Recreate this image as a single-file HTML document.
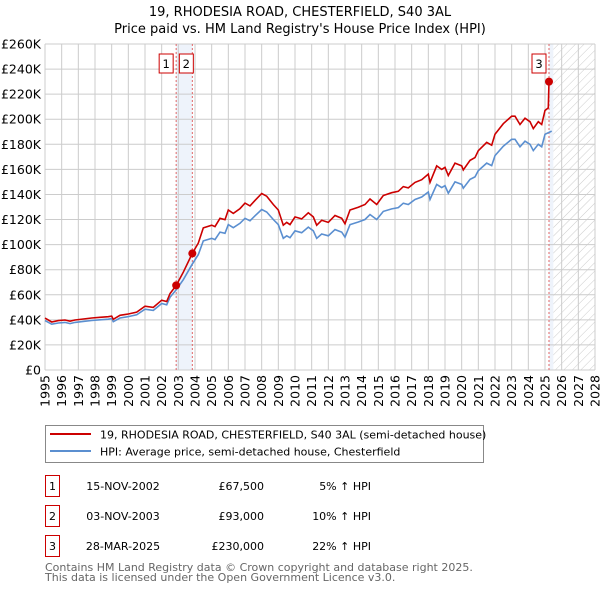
<!DOCTYPE html>
<html><head><meta charset="utf-8"><style>
body{margin:0;background:#fff;font-family:"Liberation Sans","DejaVu Sans",sans-serif;}
svg text{font-family:"DejaVu Sans","Liberation Sans",sans-serif;}
</style></head><body>
<svg id="chart" width="600" height="590" viewBox="0 0 600 590" xmlns="http://www.w3.org/2000/svg">
<defs><pattern id="hatch" width="6" height="6" patternUnits="userSpaceOnUse" patternTransform="rotate(45)"><line x1="0" y1="0" x2="0" y2="6" stroke="#ccc" stroke-width="1"/></pattern></defs>
<text x="300" y="16" text-anchor="middle" font-size="13">19, RHODESIA ROAD, CHESTERFIELD, S40 3AL</text>
<text x="300" y="33" text-anchor="middle" font-size="13">Price paid vs. HM Land Registry's House Price Index (HPI)</text>
<g id="plot"></g>
<g>
<rect x="45.5" y="425.5" width="438" height="37" fill="#fff" stroke="#888"/>
<line x1="50" y1="434" x2="91" y2="434" stroke="#cc0000" stroke-width="2"/>
<text x="100" y="438.5" font-size="11">19, RHODESIA ROAD, CHESTERFIELD, S40 3AL (semi-detached house)</text>
<line x1="50" y1="451" x2="91" y2="451" stroke="#5b8fd0" stroke-width="2"/>
<text x="100" y="455.5" font-size="11">HPI: Average price, semi-detached house, Chesterfield</text>
</g>
<g font-size="11">
<rect x="45.5" y="475.5" width="14" height="21" fill="#fff" stroke="#cc0000"/><text x="52.5" y="490" text-anchor="middle">1</text>
<text x="123" y="490" text-anchor="middle">15-NOV-2002</text><text x="264" y="490" text-anchor="end">£67,500</text><text x="371" y="490" text-anchor="end">5% ↑ HPI</text>
<rect x="45.5" y="505.5" width="14" height="21" fill="#fff" stroke="#cc0000"/><text x="52.5" y="520" text-anchor="middle">2</text>
<text x="123" y="520" text-anchor="middle">03-NOV-2003</text><text x="264" y="520" text-anchor="end">£93,000</text><text x="371" y="520" text-anchor="end">10% ↑ HPI</text>
<rect x="45.5" y="535.5" width="14" height="21" fill="#fff" stroke="#cc0000"/><text x="52.5" y="550" text-anchor="middle">3</text>
<text x="123" y="550" text-anchor="middle">28-MAR-2025</text><text x="264" y="550" text-anchor="end">£230,000</text><text x="371" y="550" text-anchor="end">22% ↑ HPI</text>
</g>
<text x="45" y="571" font-size="11" fill="#666">Contains HM Land Registry data © Crown copyright and database right 2025.</text>
<text x="45" y="581" font-size="11" fill="#666">This data is licensed under the Open Government Licence v3.0.</text>
</svg>
<script>
const yTicks=[0,20,40,60,80,100,120,140,160,180,200,220,240,260];
const xYears=[1995,1996,1997,1998,1999,2000,2001,2002,2003,2004,2005,2006,2007,2008,2009,2010,2011,2012,2013,2014,2015,2016,2017,2018,2019,2020,2021,2022,2023,2024,2025,2026,2027,2028];
const hpiTimes=[1995.0,1995.4,1995.8,1996.2,1996.5,1996.8,1997.3,1997.8,1998.3,1998.8,1999.0,1999.1,1999.5,2000.0,2000.5,2001.0,2001.5,2002.0,2002.3,2002.5,2002.87,2003.3,2003.84,2004.2,2004.5,2005.0,2005.2,2005.5,2005.8,2006.0,2006.3,2006.7,2007.0,2007.3,2007.6,2008.0,2008.3,2008.7,2009.0,2009.3,2009.5,2009.7,2010.0,2010.4,2010.8,2011.1,2011.3,2011.6,2012.0,2012.4,2012.8,2013.0,2013.3,2013.8,2014.2,2014.5,2014.9,2015.3,2015.8,2016.2,2016.5,2016.8,2017.2,2017.6,2018.0,2018.1,2018.5,2018.8,2019.0,2019.2,2019.6,2020.0,2020.1,2020.5,2020.8,2021.0,2021.5,2021.8,2022.0,2022.5,2023.0,2023.2,2023.5,2023.8,2024.1,2024.3,2024.6,2024.8,2025.0,2025.4];
const hpiValues=[39.4,36.5,37.5,38,37,38,38.8,39.5,40,40.5,41,38.5,41.5,42.6,44,48.5,47.5,53,52,58,64,72,84.5,92,103,105,104,110,109,116,113.5,117,121,119,123,128,126,120,116,105,107,105.5,111,109.5,114,111,105,108.5,107,112,110,106,116,118,120,124,120,126.5,128.5,129.5,133,132,136,138,142,136,148,145.5,147,141,150,148,145,152,154,159,165,163,171,178.5,184,184,178,182.5,180,175,180,178,188,190.5];
const priceTimes=[1995.0,1995.4,1995.8,1996.2,1996.5,1996.8,1997.3,1997.8,1998.3,1998.8,1999.0,1999.1,1999.5,2000.0,2000.5,2001.0,2001.5,2002.0,2002.3,2002.5,2002.87,2003.3,2003.84,2004.2,2004.5,2005.0,2005.2,2005.5,2005.8,2006.0,2006.3,2006.7,2007.0,2007.3,2007.6,2008.0,2008.3,2008.7,2009.0,2009.3,2009.5,2009.7,2010.0,2010.4,2010.8,2011.1,2011.3,2011.6,2012.0,2012.4,2012.8,2013.0,2013.3,2013.8,2014.2,2014.5,2014.9,2015.3,2015.8,2016.2,2016.5,2016.8,2017.2,2017.6,2018.0,2018.1,2018.5,2018.8,2019.0,2019.2,2019.6,2020.0,2020.1,2020.5,2020.8,2021.0,2021.5,2021.8,2022.0,2022.5,2023.0,2023.2,2023.5,2023.8,2024.1,2024.3,2024.6,2024.8,2025.0,2025.2,2025.24];
const priceValues=[41.4,38.3,39.4,39.9,38.9,39.9,40.7,41.5,42,42.5,43,40.4,43.6,44.7,46.2,50.9,49.9,55.7,54.6,60.9,67.5,78,93,101.2,113.3,115.5,114.4,121,119.9,127.6,124.9,128.7,133.1,130.9,135.3,140.8,138.6,132,127.6,115.5,117.7,116,122.1,120.5,125.4,122.1,115.5,119.4,117.7,123.2,121,116.6,127.6,129.8,132,136.4,132,139.2,141.4,142.5,146.3,145.2,149.6,151.8,156.2,149.6,162.8,160,161.7,155.1,165,162.8,159.5,167.2,169.4,174.9,181.5,179.3,188.1,196.4,202.4,202.4,195.8,200.8,198,192.5,198,195.8,207,209,230];
const saleLabels=["1","2","3"];
const saleTimes=[2002.87,2003.84,2025.24];
const saleValues=[67.5,93,230];

const X0=45,X1=595,Y0=370,Y1=44;
const xs=t=>X0+(t-1995)/(2028-1995)*(X1-X0);
const ys=v=>Y0-v/260*(Y0-Y1);
const NS="http://www.w3.org/2000/svg";
const g=document.getElementById('plot');
function mk(tag,attrs,parent){const e=document.createElementNS(NS,tag);for(const k in attrs)e.setAttribute(k,attrs[k]);(parent||g).appendChild(e);return e;}

let band=mk('rect',{x:xs(saleTimes[0]),y:Y1,width:xs(saleTimes[1])-xs(saleTimes[0]),height:Y0-Y1,fill:'#eef3fb'});


let band2=mk('rect',{x:xs(saleTimes[2]),y:Y1,width:xs(2025.5)-xs(saleTimes[2]),height:Y0-Y1,fill:'#eef3fb'});


let hatch=mk('rect',{x:xs(2025.5),y:Y1,width:X1-xs(2025.5),height:Y0-Y1,fill:'url(#hatch)'});



yTicks.forEach(v=>{
  const l=mk('line',{x1:X0,x2:X1,y1:ys(v),y2:ys(v),stroke:'#ccc','stroke-width':1});
  
  
  const t=mk('text',{x:X0-4,y:ys(v)+4.5,'text-anchor':'end','font-size':'12.5'});
  t.textContent=v===0?'£0':'£'+v+'K';
  
  
});
xYears.forEach(yr=>{
  const x=xs(yr);
  const l=mk('line',{x1:x,x2:x,y1:Y1,y2:Y0,stroke:'#ccc','stroke-width':1});
  
  
  const t=mk('text',{x:0,y:0,'text-anchor':'end','font-size':'12.5',transform:`translate(${x+4.5},${Y0+5}) rotate(-90)`});
  t.textContent=yr;
  
  
});

saleTimes.forEach((st,i)=>{
  const l=mk('line',{x1:xs(st),x2:xs(st),y1:Y1,y2:Y0,stroke:'#e06666','stroke-width':1,'stroke-dasharray':'2,2'});
  
  
});

function path(ts,vs){return ts.map((t,i)=>(i?'L':'M')+xs(t).toFixed(1)+','+ys(vs[i]).toFixed(1)).join('');}
const hp=mk('path',{d:path(hpiTimes,hpiValues),fill:'none',stroke:'#5b8fd0','stroke-width':1.6});


const pp=mk('path',{d:path(priceTimes,priceValues),fill:'none',stroke:'#cc0000','stroke-width':1.6});



saleTimes.forEach((st,i)=>{
  const c=mk('circle',{cx:xs(st),cy:ys(saleValues[i]),r:4,fill:'#cc0000'});
  
  
  const bx=i===0?xs(st)-10:(i===1?xs(st)-6:xs(st)-10);
  const r=mk('rect',{x:bx-7,y:54,width:14,height:19,fill:'#fff',stroke:'#cc0000'});
  
  
  const t=mk('text',{x:bx,y:68,'text-anchor':'middle','font-size':'11.5'});
  t.textContent=saleLabels[i];
  
  
});
</script>
</body></html>
